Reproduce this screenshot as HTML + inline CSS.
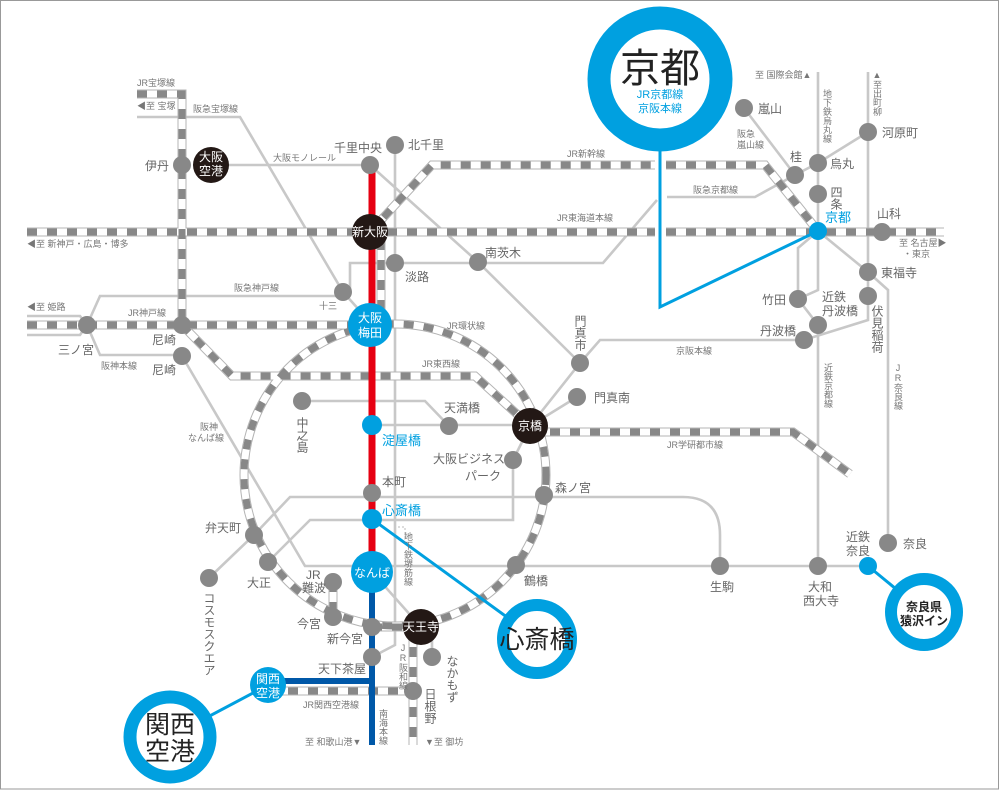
<!DOCTYPE html>
<html><head><meta charset="utf-8"><style>
html,body{margin:0;padding:0;background:#fff;}
svg{display:block;font-family:"Liberation Sans","Noto Sans CJK JP",sans-serif;}
.jb{stroke:#b4b4b4;stroke-width:9;fill:none}
.jw{stroke:#fff;stroke-width:7;fill:none}
.jd{stroke:#888;stroke-width:7;fill:none;stroke-dasharray:10 10}
.g{stroke:#c8c8c8;stroke-width:2.6;fill:none}
.s{fill:#888}
.t{fill:#666;font-size:12px}
.l{fill:#777;font-size:9px}
.v{writing-mode:vertical-rl;text-orientation:upright}
.w{fill:#fff;font-size:12px;text-anchor:middle}
.b{fill:#00a0e0;font-size:13px}
</style></head><body>
<svg width="1000" height="790" viewBox="0 0 1000 790" xmlns="http://www.w3.org/2000/svg">
<rect x="0.5" y="0.5" width="998" height="788.5" fill="#fff" stroke="#999"/>

<path class="g" d="M137,117 H240 L343,292 L370,322"/>
<path class="g" d="M210,165 H370 L478,262 L580,363"/>
<path class="g" d="M343,290 H350 V263 H603 L657,200 M667,197 H755 L795,175 L818,163 L868,132"/>
<path class="g" d="M744,108 L795,175"/>
<path class="g" d="M818,72 V290 L798,299 L818,325 V566"/>
<path class="g" d="M818,231 L798,248 V299"/>
<path class="g" d="M868,72 V320 L804,340 H600 L580,363 L530,426"/>
<path class="g" d="M818,231 L868,272 L888,290 V543"/>
<path class="g" d="M395,145 V645 L372,657"/>
<path class="g" d="M343,296 H100 L87,325 M27,316 H80 L87,325 M27,335 H80 L87,325 L100,355 H182"/>
<path class="g" d="M182,356 L305,566 H868"/>
<path class="g" d="M302,401 H425 L449,426"/>
<path class="g" d="M372,425 H530 M530,426 L577,397"/>
<path class="g" d="M209,578 L254,535 L290,497 H683 Q720,497 720,535 V566"/>
<path class="g" d="M268,562 L310,520 H513 V460 L530,426"/>
<path class="g" d="M372,572 L421,627 M432,627 V657"/>
<path d="M398,527 H405 V540" stroke="#bbb" stroke-width="1" stroke-dasharray="2 2" fill="none"/>

<g>
<path class="jb" d="M27,232 H655 M666,232 H944"/>
<path class="jb" d="M370,232 L432,165 H655 M666,165 H765 L818,231"/>
<path class="jb" d="M137,94 H182 V325"/>
<path class="jb" d="M27,325 H370 M381,240 V318"/>
<path class="jb" d="M182,325 L232,376 H475 L530,426"/>
<circle class="jb" cx="395" cy="475" r="151"/>
<path class="jb" d="M530,432 H793 L850,474"/>
<path class="jb" d="M413,627 V745 M268,691 H413 M333,582 V617 M372,627 H421"/>
<path class="jw" d="M27,232 H655 M666,232 H944"/>
<path class="jw" d="M370,232 L432,165 H655 M666,165 H765 L818,231"/>
<path class="jw" d="M137,94 H182 V325"/>
<path class="jw" d="M27,325 H370 M381,240 V318"/>
<path class="jw" d="M182,325 L232,376 H475 L530,426"/>
<circle class="jw" cx="395" cy="475" r="151"/>
<path class="jw" d="M530,432 H793 L850,474"/>
<path class="jw" d="M413,627 V745 M268,691 H413 M333,582 V617 M372,627 H421"/>
<path class="jd" d="M27,232 H655 M666,232 H944"/>
<path class="jd" d="M370,232 L432,165 H655 M666,165 H765 L818,231"/>
<path class="jd" d="M137,94 H182 V325"/>
<path class="jd" d="M27,325 H370 M381,240 V318"/>
<path class="jd" d="M182,325 L232,376 H475 L530,426"/>
<circle class="jd" cx="395" cy="475" r="151"/>
<path class="jd" d="M530,432 H793 L850,474"/>
<path class="jd" d="M413,627 V745 M268,691 H413 M333,582 V617 M372,627 H421"/>
</g>

<path d="M372,165 V572" stroke="#e60012" stroke-width="7" fill="none"/>
<path d="M372,572 V745 M268,681 H372" stroke="#0058a8" stroke-width="6" fill="none"/>
<path d="M660,151 V307 L818,231 M372,519 L537,639 M268,685 L170,737 M868,566 L924,612" stroke="#00a0e0" stroke-width="3" fill="none"/>

<circle cx="660" cy="79" r="61" fill="#fff" stroke="#00a0e0" stroke-width="23"/>
<text x="660" y="82" text-anchor="middle" font-size="40" fill="#222">京都</text>
<text x="660" y="98" text-anchor="middle" font-size="11" fill="#00a0e0">JR京都線</text>
<text x="660" y="112" text-anchor="middle" font-size="11" fill="#00a0e0">京阪本線</text>
<circle cx="537" cy="639" r="34" fill="#fff" stroke="#00a0e0" stroke-width="12"/>
<text x="537" y="648" text-anchor="middle" font-size="25" fill="#222">心斎橋</text>
<circle cx="170" cy="737" r="40" fill="#fff" stroke="#00a0e0" stroke-width="13"/>
<text x="170" y="733" text-anchor="middle" font-size="25" fill="#222">関西</text>
<text x="170" y="760" text-anchor="middle" font-size="25" fill="#222">空港</text>
<circle cx="924" cy="612" r="33" fill="#fff" stroke="#00a0e0" stroke-width="12"/>
<text x="924" y="611" text-anchor="middle" font-size="12" font-weight="bold" fill="#222">奈良県</text>
<text x="924" y="625" text-anchor="middle" font-size="12" font-weight="bold" fill="#222">猿沢イン</text>

<g class="s">
<circle cx="182" cy="165" r="9"/><circle cx="370" cy="165" r="9"/><circle cx="395" cy="145" r="9"/>
<circle cx="395" cy="263" r="9"/><circle cx="478" cy="262" r="9"/><circle cx="343" cy="292" r="9"/>
<circle cx="87" cy="325" r="9"/><circle cx="182" cy="325" r="9"/><circle cx="182" cy="356" r="9"/>
<circle cx="302" cy="401" r="9"/><circle cx="449" cy="426" r="9"/><circle cx="580" cy="363" r="9"/>
<circle cx="577" cy="397" r="9"/><circle cx="513" cy="460" r="9"/><circle cx="544" cy="495" r="9"/>
<circle cx="372" cy="493" r="9"/><circle cx="254" cy="535" r="9"/><circle cx="268" cy="562" r="9"/>
<circle cx="209" cy="578" r="9"/><circle cx="333" cy="582" r="9"/><circle cx="333" cy="617" r="9"/>
<circle cx="372" cy="627" r="9"/><circle cx="372" cy="657" r="9"/><circle cx="432" cy="657" r="9"/>
<circle cx="413" cy="691" r="9"/><circle cx="516" cy="565" r="9"/><circle cx="720" cy="566" r="9"/>
<circle cx="818" cy="566" r="9"/><circle cx="888" cy="543" r="9"/><circle cx="744" cy="108" r="9"/>
<circle cx="795" cy="175" r="9"/><circle cx="818" cy="163" r="9"/><circle cx="868" cy="132" r="9"/>
<circle cx="818" cy="194" r="9"/><circle cx="882" cy="232" r="9"/><circle cx="868" cy="272" r="9"/>
<circle cx="868" cy="296" r="9"/><circle cx="798" cy="299" r="9"/><circle cx="818" cy="325" r="9"/>
<circle cx="804" cy="340" r="9"/>
</g>
<circle cx="211" cy="165" r="18" fill="#231815"/>
<text class="w" x="211" y="161">大阪</text><text class="w" x="211" y="175">空港</text>
<circle cx="370" cy="232" r="18" fill="#231815"/>
<text class="w" x="370" y="236">新大阪</text>
<circle cx="530" cy="426" r="18" fill="#231815"/>
<text class="w" x="530" y="430" font-size="11">京橋</text>
<circle cx="421" cy="627" r="18" fill="#231815"/>
<text class="w" x="421" y="631">天王寺</text>
<circle cx="370" cy="325" r="22" fill="#00a0e0"/>
<text class="w" x="370" y="322" font-size="13">大阪</text><text class="w" x="370" y="337" font-size="13">梅田</text>
<circle cx="372" cy="572" r="21" fill="#00a0e0"/>
<text class="w" x="372" y="577" font-size="13">なんば</text>
<circle cx="268" cy="685" r="18" fill="#00a0e0"/>
<text class="w" x="268" y="683">関西</text><text class="w" x="268" y="697">空港</text>
<circle cx="372" cy="425" r="10" fill="#00a0e0"/>
<circle cx="372" cy="519" r="10" fill="#00a0e0"/>
<circle cx="818" cy="231" r="9" fill="#00a0e0"/>
<circle cx="868" cy="566" r="9" fill="#00a0e0"/>

<text class="l" x="137" y="86">JR宝塚線</text>
<text class="l" x="137" y="109">◀至 宝塚</text>
<text class="l" x="193" y="112">阪急宝塚線</text>
<text class="l" x="273" y="161">大阪モノレール</text>
<text class="l" x="567" y="157">JR新幹線</text>
<text class="l" x="693" y="193">阪急京都線</text>
<text class="l" x="557" y="221">JR東海道本線</text>
<text class="l" x="27" y="247">◀至 新神戸・広島・博多</text>
<text class="l" x="234" y="291">阪急神戸線</text>
<text class="l" x="27" y="310">◀至 姫路</text>
<text class="l" x="128" y="316">JR神戸線</text>
<text class="l" x="101" y="369">阪神本線</text>
<text class="l" x="447" y="329">JR環状線</text>
<text class="l" x="422" y="367">JR東西線</text>
<text class="l" x="676" y="354">京阪本線</text>
<text class="l" x="667" y="448">JR学研都市線</text>
<text class="l" x="200" y="430">阪神</text>
<text class="l" x="188" y="441">なんば線</text>
<text class="l" x="303" y="708">JR関西空港線</text>
<text class="l" x="305" y="745">至 和歌山港▼</text>
<text class="l" x="425" y="745">▼至 御坊</text>
<text class="l" x="737" y="137">阪急</text>
<text class="l" x="737" y="148">嵐山線</text>
<text class="l" x="755" y="78">至 国際会館▲</text>
<text class="l" x="899" y="246">至 名古屋▶</text>
<text class="l" x="903" y="257">・東京</text>
<text class="l v" x="827" y="89">地下鉄烏丸線</text>
<text class="l v" x="877" y="70">▲至出町柳</text>
<text class="l v" x="828" y="363">近鉄京都線</text>
<text class="l v" x="898" y="363">JR奈良線</text>
<text class="l v" x="408" y="532">地下鉄堺筋線</text>
<text class="l v" x="403" y="643">JR阪和線</text>
<text class="l v" x="383" y="709">南海本線</text>

<text class="t" x="145" y="170">伊丹</text>
<text class="t" x="334" y="152">千里中央</text>
<text class="t" x="408" y="149">北千里</text>
<text class="t" x="485" y="257">南茨木</text>
<text class="t" x="405" y="281">淡路</text>
<text class="l" x="319" y="309" font-size="10">十三</text>
<text class="t" x="58" y="354">三ノ宮</text>
<text class="t" x="152" y="344">尼崎</text>
<text class="t" x="152" y="374">尼崎</text>
<text class="t v" x="580" y="315">門真市</text>
<text class="t" x="594" y="402">門真南</text>
<text class="t" x="444" y="412">天満橋</text>
<text class="t v" x="302" y="417">中之島</text>
<text class="b" x="382" y="445">淀屋橋</text>
<text class="t" x="433" y="463">大阪ビジネス</text>
<text class="t" x="465" y="480">パーク</text>
<text class="t" x="555" y="492">森ノ宮</text>
<text class="t" x="382" y="486" font-size="11">本町</text>
<text class="b" x="382" y="515">心斎橋</text>
<text class="t" x="205" y="532">弁天町</text>
<text class="t" x="247" y="587">大正</text>
<text class="t v" x="209" y="592">コスモスクエア</text>
<text class="t" x="306" y="579" font-size="11">JR</text>
<text class="t" x="302" y="592" font-size="11">難波</text>
<text class="t" x="297" y="628">今宮</text>
<text class="t" x="327" y="643">新今宮</text>
<text class="t" x="318" y="673">天下茶屋</text>
<text class="t" x="524" y="585">鶴橋</text>
<text class="t v" x="452" y="655">なかもず</text>
<text class="t v" x="430" y="688">日根野</text>
<text class="t" x="710" y="591">生駒</text>
<text class="t" x="808" y="591">大和</text>
<text class="t" x="803" y="605">西大寺</text>
<text class="t" x="846" y="541">近鉄</text>
<text class="t" x="846" y="555">奈良</text>
<text class="t" x="903" y="548">奈良</text>
<text class="t" x="758" y="113">嵐山</text>
<text class="t" x="790" y="161">桂</text>
<text class="t" x="830" y="168">烏丸</text>
<text class="t" x="882" y="137">河原町</text>
<text class="t v" x="836" y="186">四条</text>
<text class="b" x="825" y="222">京都</text>
<text class="t" x="877" y="218">山科</text>
<text class="t" x="881" y="277">東福寺</text>
<text class="t" x="762" y="304">竹田</text>
<text class="t" x="822" y="301">近鉄</text>
<text class="t" x="822" y="315">丹波橋</text>
<text class="t v" x="877" y="305">伏見稲荷</text>
<text class="t" x="760" y="335">丹波橋</text>
</svg>
</body></html>
